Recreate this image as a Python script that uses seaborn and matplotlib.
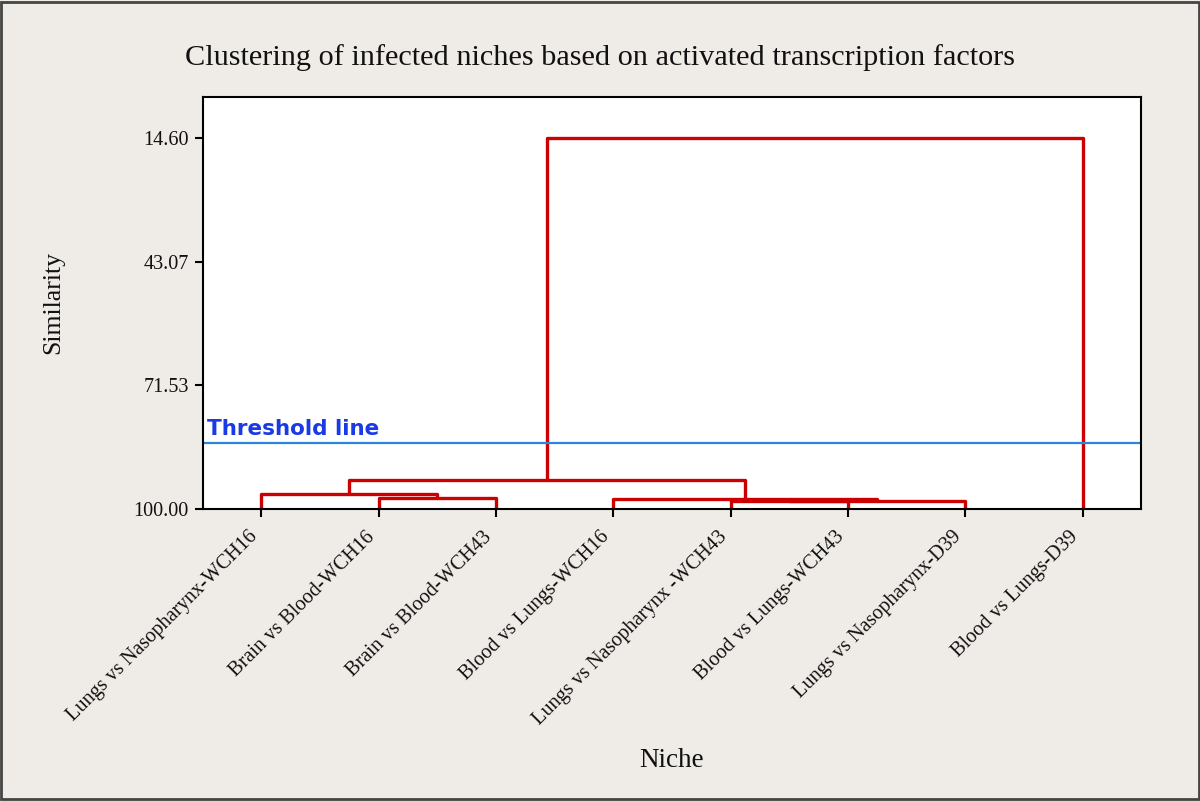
import numpy as np
import pandas as pd
import matplotlib.pyplot as plt
import matplotlib.patches as mpatches
import seaborn as sns

# leaves in dendrogram order
niches = ["Lungs vs Nasopharynx-WCH16", "Brain vs Blood-WCH16", "Brain vs Blood-WCH43",
          "Blood vs Lungs-WCH16", "Lungs vs Nasopharynx -WCH43", "Blood vs Lungs-WCH43",
          "Lungs vs Nasopharynx-D39", "Blood vs Lungs-D39"]

# merges (linkage style): new cluster ids start at len(niches)
merge_a = [1, 0, 4, 10, 3, 9, 13]
merge_b = [2, 8, 5, 6, 11, 12, 7]
merge_sim = [97.40, 96.55, 98.16, 98.04, 97.70, 93.21, 14.60]

y_ticks = [14.60, 43.07, 71.53, 100.00]
threshold = 84.8

sns.set_style("white")
plt.rcParams["font.family"] = ["Liberation Serif", "DejaVu Serif"]

# build dendrogram link paths
pos = {i: float(i) for i in range(len(niches))}
height = {i: 100.0 for i in range(len(niches))}
rows = []
for k, (a, b, s) in enumerate(zip(merge_a, merge_b, merge_sim)):
    cid = len(niches) + k
    rows += [(k, pos[a], height[a]), (k, pos[a], s), (k, pos[b], s), (k, pos[b], height[b])]
    pos[cid] = (pos[a] + pos[b]) / 2
    height[cid] = s
links = pd.DataFrame(rows, columns=["link", "x", "y"])

fig = plt.figure(figsize=(12, 8.01), dpi=100)
fig.patch.set_facecolor("#efebe6")
ax = fig.add_axes([0.169, 0.3645, 0.782, 0.5145])
ax.set_facecolor("white")

sns.lineplot(data=links, x="x", y="y", units="link", estimator=None, sort=False,
             color="#cc0000", linewidth=2.4, ax=ax, legend=False)

ax.axhline(threshold, color="#2a84e0", linewidth=1.6)
ax.text(-0.46, threshold - 0.9, "Threshold line", color="#1a3ae6", fontsize=15.5,
        fontweight="bold", family="DejaVu Sans", va="bottom", ha="left")

ax.set_xlim(-0.5, len(niches) - 0.5)
ax.set_ylim(100, 5.16)
ax.set_yticks(y_ticks)
ax.set_yticklabels([f"{v:.2f}" for v in y_ticks], fontsize=14.5, color="#111111")
ax.set_xticks(range(len(niches)))
ax.set_xticklabels(niches, rotation=45, ha="right", va="bottom", rotation_mode="anchor",
                   fontsize=14.6, color="#111111")
ax.tick_params(axis="both", direction="out", length=6, width=1.5, color="black", pad=4,
               bottom=True, left=True)
ax.tick_params(axis="x", pad=17)
for sp in ax.spines.values():
    sp.set_color("black")
    sp.set_linewidth(1.5)

ax.set_xlabel("Niche", fontsize=19.5, color="#111111")
ax.set_ylabel("Similarity", fontsize=18.5, color="#111111")
ax.xaxis.set_label_coords(0.5, -0.58)
ax.yaxis.set_label_coords(-0.148, 0.5)
fig.text(0.5, 0.928, "Clustering of infected niches based on activated transcription factors",
         ha="center", va="center", fontsize=21.8, color="#111111")

fig.patches.append(mpatches.Rectangle((0.001, 0.002), 0.998, 0.996, transform=fig.transFigure,
                                      fill=False, edgecolor="#444444", linewidth=2))

fig.savefig("out.png", dpi=100, facecolor=fig.get_facecolor())
